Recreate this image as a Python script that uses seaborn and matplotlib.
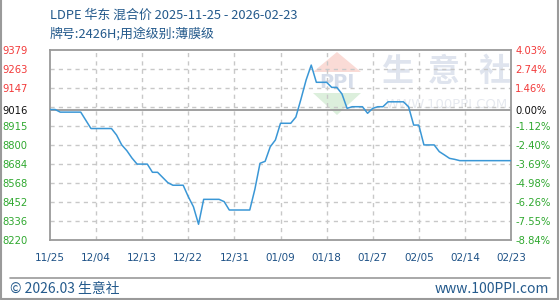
import matplotlib
matplotlib.use("Agg")
import matplotlib.pyplot as plt
import seaborn as sns
import pandas as pd
import numpy as np
from matplotlib.patches import Polygon
from matplotlib.lines import Line2D

# ---------------- data ----------------
dates = [
    "2025-11-25", "2025-11-26", "2025-11-27", "2025-12-01", "2025-12-03",
    "2025-12-07", "2025-12-08", "2025-12-09", "2025-12-10", "2025-12-11",
    "2025-12-12", "2025-12-14", "2025-12-15", "2025-12-16", "2025-12-18",
    "2025-12-19", "2025-12-21", "2025-12-22", "2025-12-23", "2025-12-24",
    "2025-12-25", "2025-12-28", "2025-12-29", "2025-12-30", "2026-01-03",
    "2026-01-04", "2026-01-05", "2026-01-06", "2026-01-07", "2026-01-08",
    "2026-01-09", "2026-01-11", "2026-01-12", "2026-01-13", "2026-01-14",
    "2026-01-15", "2026-01-16", "2026-01-18", "2026-01-19", "2026-01-20",
    "2026-01-21", "2026-01-22", "2026-01-23", "2026-01-25", "2026-01-26",
    "2026-01-27", "2026-01-28", "2026-01-29", "2026-01-30", "2026-02-02",
    "2026-02-03", "2026-02-04", "2026-02-05", "2026-02-06", "2026-02-08",
    "2026-02-09", "2026-02-10", "2026-02-11", "2026-02-12", "2026-02-13",
    "2026-02-23",
]
prices = [
    9016, 9016, 9000, 9000, 8900,
    8900, 8860, 8800, 8765, 8720,
    8683, 8683, 8633, 8633, 8570,
    8554, 8554, 8484, 8423, 8316,
    8468, 8468, 8454, 8403, 8403,
    8530, 8688, 8700, 8789, 8830,
    8932, 8932, 8970, 9080, 9196,
    9287, 9182, 9182, 9151, 9151,
    9111, 9023, 9033, 9033, 8993,
    9023, 9033, 9033, 9063, 9063,
    9033, 8921, 8921, 8800, 8800,
    8759, 8739, 8718, 8712, 8704,
    8704,
]
x_tick_labels = ["11/25", "12/04", "12/13", "12/22", "12/31", "01/09",
                 "01/18", "01/27", "02/05", "02/14", "02/23"]
left_labels = ["9379", "9263", "9147", "9016", "8915", "8800",
               "8684", "8568", "8452", "8336", "8220"]
right_labels = ["4.03%", "2.74%", "1.46%", "0.00%", "-1.12%", "-2.40%",
                "-3.69%", "-4.98%", "-6.26%", "-7.55%", "-8.84%"]
base_price = 9016
title_text = "LDPE 华东 混合价 2025-11-25 - 2026-02-23"
subtitle_text = "牌号:2426H;用途级别:薄膜级"
footer_left = "© 2026.03 生意社"
footer_right = "www.100PPI.com"
watermark_text = "生意社"
watermark_url = "WWW.100PPI.COM"

# ---------------- style ----------------
sns.set_theme(style="white")
plt.rcParams['font.family'] = ['Noto Sans CJK SC', 'DejaVu Sans']

W, H = 560, 300
fig = plt.figure(figsize=(W / 100, H / 100), dpi=100)
fig.patch.set_facecolor("white")

def fx(px):
    return px / W

def fy(py):
    return 1 - py / H

ax = fig.add_axes([fx(50), fy(240), (511 - 50) / W, (240 - 50) / H])
ax.set_facecolor("white")

df = pd.DataFrame({"date": pd.to_datetime(dates), "price": prices})

# watermark (behind everything)
wm_kw = dict(transform=fig.transFigure, zorder=0.5)
ax.add_patch(Polygon([(fx(337), fy(52)), (fx(313), fy(72)), (fx(361), fy(72))],
                     closed=True, facecolor="#fadbd6", edgecolor="none", **wm_kw))
ax.add_patch(Polygon([(fx(313), fy(93)), (fx(361), fy(93)), (fx(337), fy(115))],
                     closed=True, facecolor="#dcefdc", edgecolor="none", **wm_kw))
ax.text(fx(337), fy(82), "PPI", fontsize=14, fontweight="bold", color="#d6ddea",
        ha="center", va="center", family="DejaVu Sans", **wm_kw)
for ch, cx in zip(watermark_text, [397, 444, 495]):
    ax.text(fx(cx), fy(72), ch, fontsize=23, fontweight="bold", color="#dfe4ee",
            ha="center", va="center", **wm_kw)
ax.text(fx(447), fy(105), watermark_url, fontsize=9.5, color="#e6e9ef",
        ha="center", va="center", family="DejaVu Sans", **wm_kw)

sns.lineplot(data=df, x="date", y="price", ax=ax, color="#3a97d6",
             linewidth=1.1, zorder=5)

x0 = pd.Timestamp(dates[0])
x1 = pd.Timestamp(dates[-1])
ax.set_xlim(x0, x1)
y_top = float(left_labels[0])
y_bot = float(left_labels[-1])
ax.set_ylim(y_bot, y_top)

xticks = pd.date_range(x0, periods=len(x_tick_labels), freq="9D")
ax.set_xticks(xticks)
ax.set_xticklabels(x_tick_labels, fontsize=7.5, color="#1d5186",
                   family="DejaVu Sans")

ytick_pos = [float(v) for v in left_labels]
ax.set_yticks(ytick_pos)
ax.set_yticklabels(left_labels, fontsize=7.2, family="DejaVu Sans")
ax.set_xlabel("")
ax.set_ylabel("")

def lbl_color(v):
    if v > base_price:
        return "#f23a3a"
    if v < base_price:
        return "#2fa82f"
    return "#111111"

for lbl, v in zip(ax.get_yticklabels(), ytick_pos):
    lbl.set_color(lbl_color(v))

ax.tick_params(axis="y", length=0, pad=16)
ax.tick_params(axis="x", length=0, pad=9)

# grid
grid_color = "#c8c8c8"
ax.grid(False)
for xt in xticks[1:-1]:
    ax.axvline(xt, color=grid_color, linestyle=(0, (3, 3)), linewidth=1, zorder=1)
for yv in np.linspace(y_bot, y_top, len(left_labels))[1:-1]:
    ax.axhline(yv, color=grid_color, linestyle=(0, (3, 3)), linewidth=1, zorder=1)
ax.axhline(base_price, color="#999999", linewidth=1.3, zorder=2)

for sp in ax.spines.values():
    sp.set_visible(True)
    sp.set_color("#9a9a9a")
    sp.set_linewidth(1.3)

ax2 = ax.twinx()
ax2.set_ylim(y_bot, y_top)
ax2.set_yticks(ytick_pos)
ax2.set_yticklabels(right_labels, fontsize=7.2, family="DejaVu Sans")
for lbl, v in zip(ax2.get_yticklabels(), ytick_pos):
    lbl.set_color(lbl_color(v))
ax2.tick_params(axis="y", length=0, pad=3)
for sp in ax2.spines.values():
    sp.set_visible(False)
ax2.grid(False)

# titles
title_color = "#245a8c"
fig.text(fx(50), fy(15), title_text, fontsize=9.3, color=title_color,
         ha="left", va="center")
fig.text(fx(50), fy(33.5), subtitle_text, fontsize=9.3, color=title_color,
         ha="left", va="center")

# footer
fig.add_artist(Line2D([fx(10), fx(550)], [fy(278), fy(278)], color="#9a9a9a",
                      linewidth=1.2, transform=fig.transFigure))
fig.text(fx(10), fy(289), footer_left, fontsize=10, color=title_color,
         ha="left", va="center")
fig.text(fx(549), fy(289), footer_right, fontsize=10, color=title_color,
         ha="right", va="center")

# outer border (left, right, bottom)
border = "#9a9a9a"
fig.add_artist(Line2D([fx(1), fx(1)], [fy(0), fy(299)], color=border,
                      linewidth=1.5, transform=fig.transFigure))
fig.add_artist(Line2D([fx(558), fx(558)], [fy(0), fy(299)], color=border,
                      linewidth=1.5, transform=fig.transFigure))
fig.add_artist(Line2D([fx(1), fx(558)], [fy(299), fy(299)], color=border,
                      linewidth=1.5, transform=fig.transFigure))

fig.savefig("out.png", dpi=100, facecolor="white")
